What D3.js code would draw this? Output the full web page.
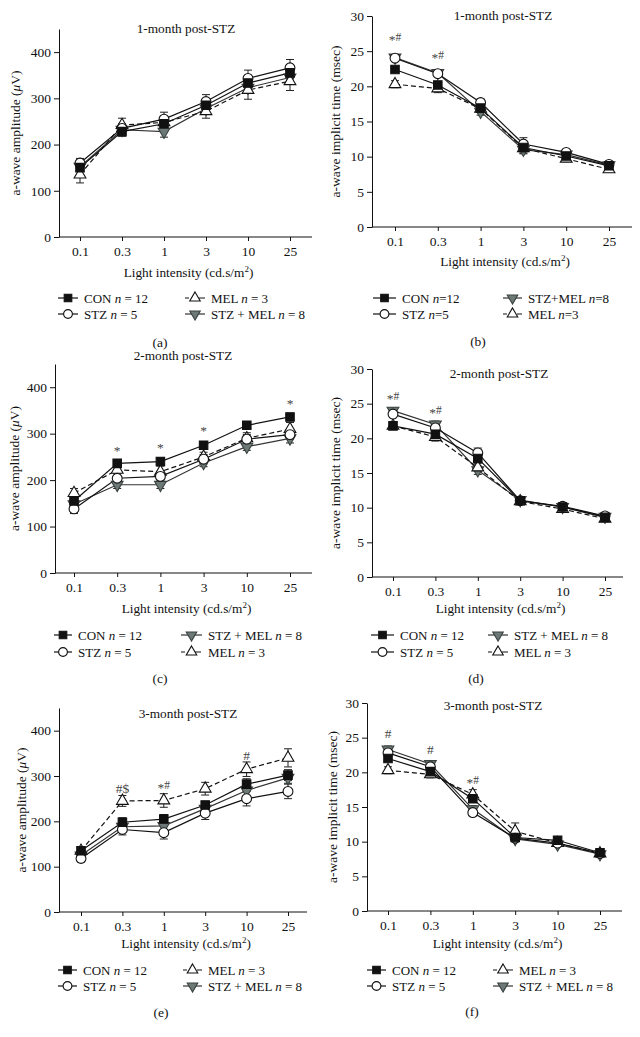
<!DOCTYPE html>
<html>
<head>
<meta charset="utf-8">
<script src="https://cdn.jsdelivr.net/npm/d3@7"></script>
<style>
  html, body { margin: 0; padding: 0; background: #fff; }
  svg { display: block; }
  svg text { font-family: "Liberation Serif", "Times New Roman", serif; }
</style>
</head>
<body>
<svg id="fig" width="640" height="1037"></svg>
<script>
// ── Data ──────────────────────────────────────────────────────────────────
var INTENSITY = ["0.1", "0.3", "1", "3", "10", "25"];
var SERIES = ["CON", "STZ", "MEL", "STZ+MEL"];

// a-wave amplitude (µV), series order: CON, STZ, MEL, STZ+MEL
var amp1 = [[150, 228, 245, 285, 333, 355],
            [160, 235, 255, 293, 343, 366],
            [135, 242, 248, 272, 318, 337],
            [152, 232, 228, 278, 323, 345]];
var amp1Err = [[8, 10, 10, 10, 12, 12],
               [10, 10, 15, 15, 18, 18],
               [18, 15, 12, 15, 20, 20],
               [8, 8, 12, 10, 12, 12]];
var amp2 = [[155, 236, 240, 275, 318, 336],
            [138, 204, 208, 245, 288, 298],
            [172, 222, 218, 250, 290, 310],
            [148, 190, 190, 237, 272, 290]];
var amp2Err = [[8, 8, 8, 8, 8, 8],
               [10, 10, 10, 10, 10, 10],
               [10, 12, 12, 10, 12, 14],
               [8, 8, 8, 8, 8, 10]];
var amp3 = [[135, 198, 205, 236, 282, 302],
            [118, 182, 175, 218, 250, 266],
            [135, 245, 246, 272, 315, 340],
            [125, 188, 190, 228, 268, 296]];
var amp3Err = [[8, 10, 10, 8, 12, 12],
               [8, 12, 14, 14, 16, 16],
               [8, 12, 15, 14, 16, 20],
               [8, 10, 10, 10, 12, 12]];

// a-wave implicit time (msec)
var time1 = [[22.4, 20.2, 16.9, 11.3, 10.1, 8.7],
             [24.0, 21.8, 17.7, 11.8, 10.6, 8.9],
             [20.3, 19.7, 16.8, 11.2, 9.7, 8.2],
             [24.1, 21.9, 16.4, 11.0, 10.3, 8.8]];
var time1Err = [[0.3, 0.4, 0.4, 0.5, 0.3, 0.3],
                [0.4, 0.3, 0.5, 0.9, 0.4, 0.3],
                [0.5, 0.6, 0.5, 0.7, 0.4, 0.4],
                [0.4, 0.3, 0.5, 0.6, 0.3, 0.3]];
var time2 = [[21.8, 20.6, 17.1, 11.0, 10.1, 8.6],
             [23.5, 21.5, 17.9, 11.0, 10.2, 8.8],
             [21.8, 20.2, 15.8, 10.9, 9.8, 8.4],
             [24.0, 22.0, 15.4, 11.1, 10.1, 8.7]];
var time2Err = [[0.4, 0.5, 0.6, 0.4, 0.3, 0.3],
                [0.4, 0.5, 0.7, 0.4, 0.3, 0.3],
                [0.5, 0.6, 0.6, 0.4, 0.4, 0.4],
                [0.4, 0.5, 0.6, 0.4, 0.3, 0.3]];
var time3 = [[22.0, 20.1, 16.2, 10.6, 10.2, 8.4],
             [22.8, 20.8, 14.2, 10.5, 9.8, 8.3],
             [20.3, 19.7, 16.8, 11.5, 9.8, 8.3],
             [23.3, 21.2, 14.7, 10.4, 9.6, 8.2]];
var time3Err = [[0.4, 0.4, 0.5, 0.4, 0.3, 0.3],
                [0.5, 0.5, 0.5, 0.4, 0.3, 0.3],
                [0.5, 0.5, 0.7, 1.2, 0.4, 0.3],
                [0.5, 0.5, 0.5, 0.4, 0.3, 0.3]];

// significance marks: [intensity, main symbol, superscript, value]
var marks1Time = [["0.1", "*", "#", 26.7], ["0.3", "*", "#", 24.2]];
var marks2Amp = [["0.3", "*", "", 265], ["1", "*", "", 271], ["3", "*", "", 307], ["25", "*", "", 367]];
var marks2Time = [["0.1", "*", "#", 25.8], ["0.3", "*", "#", 23.8]];
var marks3Amp = [["0.3", "#$", "", 273], ["1", "*", "#", 276], ["10", "#", "", 346]];
var marks3Time = [["0.1", "#", "", 25.7], ["0.3", "#", "", 23.3], ["1", "*", "#", 18.6]];

// legend entries: [series index, count]; rows of [left, right]
var legendA = [[[0, 12], [2, 3]], [[1, 5], [3, 8]]];
var legendB = [[[0, 12], [3, 8]], [[1, 5], [2, 3]]];

var SERIES_LABEL = ["CON", "STZ", "MEL", "STZ + MEL"];
var SERIES_LABEL_TIGHT = ["CON", "STZ", "MEL", "STZ+MEL"];

// ── Styles ────────────────────────────────────────────────────────────────
var GRAY = "#6d7977";
var STYLE = [
  { shape: d3.symbolSquare,   size: 72, fill: "#111", stroke: "#111",    line: "#111", dash: null,  rot: 0 },
  { shape: d3.symbolCircle,   size: 76, fill: "#fff", stroke: "#111",    line: "#111", dash: null,  rot: 0 },
  { shape: d3.symbolTriangle, size: 60, fill: "#fff", stroke: "#111",    line: "#111", dash: "5,3", rot: 0 },
  { shape: d3.symbolTriangle, size: 60, fill: GRAY,   stroke: "#3a4240", line: "#333", dash: null,  rot: 180 }
];
var DRAW_ORDER = [3, 2, 1, 0];

var svg = d3.select("#fig");

// ── Panel layouts ─────────────────────────────────────────────────────────
var panels = [
  { values: amp1, err: amp1Err, marks: [], kind: "amp", title: "1-month post-STZ",
    left: 59, right: 312, top: 29, bottom: 237, x0: 80, x1: 290, titleX: 186, titleY: 28,
    yLabX: 15, xLabY: 272, legend: legendA, tight: false,
    lg: { c1: 58, t1: 84, c2: 185, t2: 211, r1: 298, r2: 314 }, tag: "(a)", tagX: 160, tagY: 342 },
  { values: time1, err: time1Err, marks: marks1Time, kind: "time", title: "1-month post-STZ",
    left: 372, right: 632, top: 16, bottom: 227, x0: 395, x1: 609, titleX: 503, titleY: 15,
    yLabX: 335, xLabY: 261, legend: legendB, tight: true,
    lg: { c1: 373, t1: 402, c2: 503, t2: 528, r1: 298, r2: 314 }, tag: "(b)", tagX: 478, tagY: 341 },
  { values: amp2, err: amp2Err, marks: marks2Amp, kind: "amp", title: "2-month post-STZ",
    left: 55, right: 312, top: 364, bottom: 573, x0: 74, x1: 290, titleX: 183, titleY: 355,
    yLabX: 14, xLabY: 608, legend: legendB, tight: false,
    lg: { c1: 54, t1: 78, c2: 181, t2: 208, r1: 635, r2: 652 }, tag: "(c)", tagX: 160, tagY: 678 },
  { values: time2, err: time2Err, marks: marks2Time, kind: "time", title: "2-month post-STZ",
    left: 372, right: 623, top: 369, bottom: 577, x0: 393, x1: 605, titleX: 499, titleY: 373,
    yLabX: 335, xLabY: 608, legend: legendB, tight: false,
    lg: { c1: 371, t1: 400, c2: 488, t2: 514, r1: 635, r2: 652 }, tag: "(d)", tagX: 476, tagY: 678 },
  { values: amp3, err: amp3Err, marks: marks3Amp, kind: "amp", title: "3-month post-STZ",
    left: 59, right: 307, top: 708, bottom: 912, x0: 81, x1: 288, titleX: 188, titleY: 713,
    yLabX: 21, xLabY: 943, legend: legendA, tight: false,
    lg: { c1: 58, t1: 83, c2: 183, t2: 208, r1: 970, r2: 986 }, tag: "(e)", tagX: 161, tagY: 1012 },
  { values: time3, err: time3Err, marks: marks3Time, kind: "time", title: "3-month post-STZ",
    left: 367, right: 622, top: 703, bottom: 911, x0: 388, x1: 600, titleX: 493, titleY: 705,
    yLabX: 332, xLabY: 943, legend: legendA, tight: false,
    lg: { c1: 367, t1: 392, c2: 493, t2: 519, r1: 970, r2: 986 }, tag: "(f)", tagX: 472, tagY: 1011 }
];

function marker(sel, si, x, y, scale) {
  var st = STYLE[si];
  sel.append("path")
    .attr("d", d3.symbol().type(st.shape).size(st.size * (scale || 1))())
    .attr("transform", "translate(" + x + "," + y + ") rotate(" + st.rot + ")")
    .attr("fill", st.fill)
    .attr("stroke", st.stroke)
    .attr("stroke-width", 1.1);
}

panels.forEach(function (p) {
  var g = svg.append("g");
  var yMax = p.kind === "amp" ? 450 : 30;
  var x = d3.scalePoint().domain(INTENSITY).range([p.x0, p.x1]);
  var y = d3.scaleLinear().domain([0, yMax]).range([p.bottom, p.top]);

  // ── Axes ──────────────────────────────────────────────────────────────
  var ya = g.append("g").attr("transform", "translate(" + p.left + ",0)")
    .call(d3.axisLeft(y)
      .tickValues(p.kind === "amp" ? [0, 100, 200, 300, 400] : [0, 5, 10, 15, 20, 25, 30])
      .tickSize(5).tickSizeOuter(0).tickPadding(3));
  var xa = g.append("g").attr("transform", "translate(0," + p.bottom + ")")
    .call(d3.axisBottom(x).tickSize(4).tickPadding(5));
  xa.select(".domain").remove();
  g.append("line")
    .attr("x1", p.left).attr("x2", p.right)
    .attr("y1", p.bottom).attr("y2", p.bottom)
    .attr("stroke", "#111").attr("stroke-width", 1);
  [ya, xa].forEach(function (a) {
    a.selectAll("text").attr("font-size", "13.5px").attr("fill", "#111");
    a.selectAll("line, path").attr("stroke", "#111");
  });

  // ── Titles and labels ─────────────────────────────────────────────────
  g.append("text").attr("x", p.titleX).attr("y", p.titleY + 4.5)
    .attr("text-anchor", "middle").attr("font-size", "13.3px").attr("fill", "#111")
    .text(p.title);

  var yl = g.append("text")
    .attr("transform", "translate(" + p.yLabX + "," + ((p.top + p.bottom) / 2) + ") rotate(-90)")
    .attr("text-anchor", "middle").attr("dy", "0.35em")
    .attr("font-size", "13.5px").attr("fill", "#111");
  if (p.kind === "amp") {
    yl.append("tspan").text("a-wave amplitude (");
    yl.append("tspan").attr("font-style", "italic").text("\u03bc");
    yl.append("tspan").text("V)");
  } else {
    yl.text("a-wave implicit time (msec)");
  }

  var xl = g.append("text")
    .attr("x", (p.left + p.right) / 2 + 3).attr("y", p.xLabY + 4.5)
    .attr("text-anchor", "middle").attr("font-size", "13.3px").attr("fill", "#111");
  xl.append("tspan").text("Light intensity (cd.s/m");
  xl.append("tspan").attr("font-size", "9px").attr("dy", "-5").text("2");
  xl.append("tspan").attr("dy", "5").text(")");

  // ── Lines ─────────────────────────────────────────────────────────────
  var line = d3.line()
    .x(function (d, i) { return x(INTENSITY[i]); })
    .y(function (d) { return y(d); });

  DRAW_ORDER.forEach(function (si) {
    g.append("path")
      .attr("d", line(p.values[si]))
      .attr("fill", "none")
      .attr("stroke", STYLE[si].line)
      .attr("stroke-width", 1.2)
      .attr("stroke-dasharray", STYLE[si].dash);
  });

  // ── Error bars ────────────────────────────────────────────────────────
  DRAW_ORDER.forEach(function (si) {
    p.values[si].forEach(function (v, i) {
      var cx = x(INTENSITY[i]);
      var e = p.err[si][i];
      var eg = g.append("g").attr("stroke", "#222").attr("stroke-width", 1);
      eg.append("line").attr("x1", cx).attr("x2", cx).attr("y1", y(v - e)).attr("y2", y(v + e));
      eg.append("line").attr("x1", cx - 4).attr("x2", cx + 4).attr("y1", y(v - e)).attr("y2", y(v - e));
      eg.append("line").attr("x1", cx - 4).attr("x2", cx + 4).attr("y1", y(v + e)).attr("y2", y(v + e));
    });
  });

  // ── Markers ───────────────────────────────────────────────────────────
  DRAW_ORDER.forEach(function (si) {
    p.values[si].forEach(function (v, i) {
      marker(g, si, x(INTENSITY[i]), y(v));
    });
  });

  // ── Significance marks ────────────────────────────────────────────────
  p.marks.forEach(function (m) {
    var t = g.append("text")
      .attr("x", x(m[0])).attr("y", y(m[3]) + 5)
      .attr("text-anchor", "middle").attr("font-size", "13.5px").attr("fill", "#444");
    t.append("tspan").text(m[1]);
    if (m[2]) t.append("tspan").attr("font-size", "11.5px").attr("dy", "-3").text(m[2]);
  });

  // ── Legend ────────────────────────────────────────────────────────────
  var cols = [[p.lg.c1, p.lg.t1], [p.lg.c2, p.lg.t2]];
  var rows = [p.lg.r1, p.lg.r2];
  p.legend.forEach(function (row, ri) {
    row.forEach(function (ent, ci) {
      var si = ent[0];
      var lx0 = cols[ci][0], tx = cols[ci][1], ly = rows[ri];
      var lx1 = tx - 6;
      g.append("line")
        .attr("x1", lx0).attr("x2", lx1).attr("y1", ly).attr("y2", ly)
        .attr("stroke", STYLE[si].line).attr("stroke-width", 1.2)
        .attr("stroke-dasharray", STYLE[si].dash ? "4,10,6" : null);
      marker(g, si, (lx0 + lx1) / 2, ly, 0.8);
      var t = g.append("text").attr("x", tx).attr("y", ly + 4.5)
        .attr("font-size", "13px").attr("fill", "#111");
      if (p.tight) {
        t.append("tspan").text(SERIES_LABEL_TIGHT[si] + " ");
        t.append("tspan").attr("font-style", "italic").text("n");
        t.append("tspan").text("=" + ent[1]);
      } else {
        t.append("tspan").text(SERIES_LABEL[si] + " ");
        t.append("tspan").attr("font-style", "italic").text("n");
        t.append("tspan").text(" = " + ent[1]);
      }
    });
  });

  g.append("text").attr("x", p.tagX).attr("y", p.tagY + 4.5)
    .attr("text-anchor", "middle").attr("font-size", "13.5px").attr("fill", "#111")
    .text(p.tag);
});
</script>
</body>
</html>
